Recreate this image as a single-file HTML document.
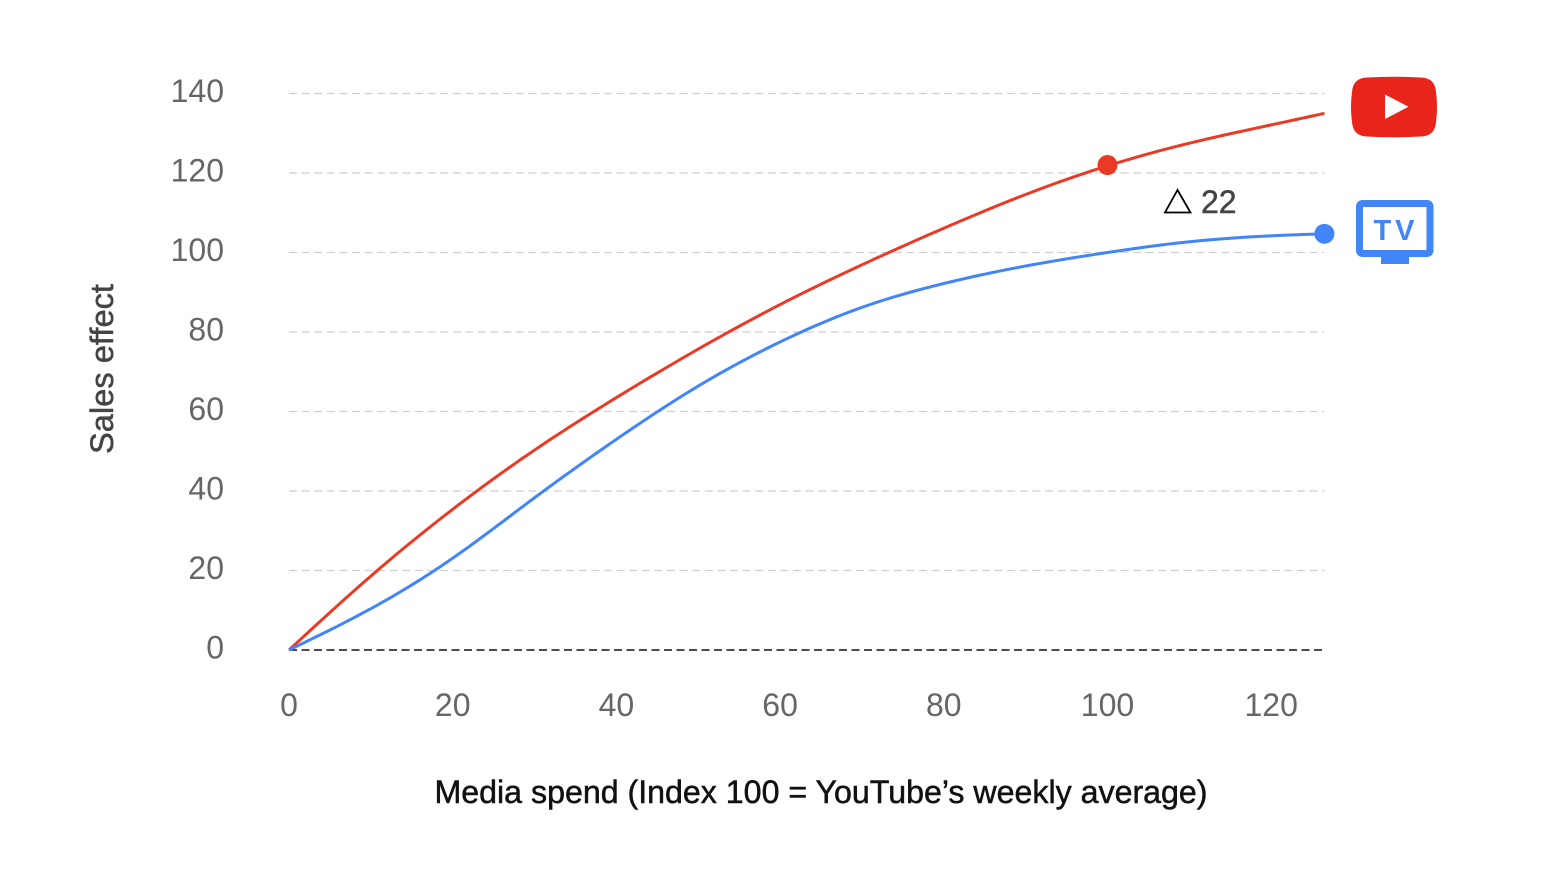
<!DOCTYPE html>
<html lang="en">
<head>
<meta charset="utf-8">
<title>Sales effect vs media spend</title>
<style>
  html,body{margin:0;padding:0;background:#fff;}
  #chart{display:block;width:1560px;height:872px;font-family:"Liberation Sans",sans-serif;}
</style>
</head>
<body>
<svg id="chart" width="1560" height="872" viewBox="0 0 1560 872" xmlns="http://www.w3.org/2000/svg">
  <rect x="0" y="0" width="1560" height="872" fill="#ffffff"/>
  <g id="grid"></g>
  <g id="yticks"></g>
  <g id="xticks"></g>
  <g id="series"></g>
  <text transform="translate(113,369) rotate(-90)" text-anchor="middle" font-size="32" fill="#444444" stroke="#444444" stroke-width="0.5" textLength="170" lengthAdjust="spacingAndGlyphs">Sales effect</text>
  <text x="821" y="803" text-anchor="middle" font-size="32" fill="#111111" stroke="#111111" stroke-width="0.5" textLength="773" lengthAdjust="spacingAndGlyphs">Media spend (Index 100 = YouTube’s weekly average)</text>

  <g>
    <polygon points="1177.5,190 1165,212.5 1190.5,212.5" fill="none" stroke="#000000" stroke-width="1.8"/>
    <text x="1201" y="213" font-size="32" fill="#444444" stroke="#444444" stroke-width="0.5">22</text>
  </g>

  <g>
    <path d="M1367 77.500 Q1394 76 1421 77.500 Q1435 78 1436 92 Q1438 107 1436 122 Q1435 136 1421 136.500 Q1394 138 1367 136.500 Q1353 136 1352 122 Q1350 107 1352 92 Q1353 78 1367 77.500 Z" fill="#E9241A"/>
    <polygon points="1385,94.500 1408.500,106.700 1385,119" fill="#ffffff"/>
  </g>

  <g>
    <rect x="1381" y="255" width="28" height="9" fill="#4285F9"/>
    <rect x="1359.500" y="203.500" width="70.500" height="50" rx="3" ry="3" fill="#ffffff" stroke="#4285F9" stroke-width="7"/>
    <text x="1396" y="240" text-anchor="middle" font-size="29" font-weight="bold" letter-spacing="4" fill="#4285F9">TV</text>
  </g>
</svg>
<script>
var spendValues = [0, 10, 20, 30, 40, 50, 60, 70, 80, 90, 100, 110, 120, 126.5];
var youtubeEffect = [0, 18.6, 35.4, 50.3, 63.5, 75.7, 86.9, 96.9, 106.1, 114.6, 121.8, 127.5, 132.1, 135];
var tvEffect = [0, 10.4, 23.1, 38.3, 53, 66.4, 77.5, 86.2, 92.2, 96.6, 100, 102.7, 104.2, 104.7];
var yTickLabels = [0, 20, 40, 60, 80, 100, 120, 140];
var xTickLabels = [0, 20, 40, 60, 80, 100, 120];
var youtubeMarkerSpend = [100];
var youtubeMarkerEffect = [122];
var tvMarkerSpend = [126.5];
var tvMarkerEffect = [104.7];

var NS = 'http://www.w3.org/2000/svg';
function xScale(v) { return 289 + v * 8.185; }
function yScale(v) { return 650 - v * 3.975; }
function yLabelBaseline(t) { return 658.6 - t * 3.975; }
function make(tag, attrs, parent) {
  var el = document.createElementNS(NS, tag);
  for (var k in attrs) { el.setAttribute(k, attrs[k]); }
  parent.appendChild(el);
  return el;
}
// Natural cubic spline through the data, sampled finely so the curve stays C2-smooth.
function smoothPath(xs, ys) {
  var n = xs.length, m = new Array(n).fill(0), c = new Array(n).fill(0), d = new Array(n).fill(0);
  for (var i = 1; i < n - 1; i++) {
    var h0 = xs[i] - xs[i - 1], h1 = xs[i + 1] - xs[i];
    var a = h0, b = 2 * (h0 + h1), r = 6 * ((ys[i + 1] - ys[i]) / h1 - (ys[i] - ys[i - 1]) / h0);
    var den = b - a * c[i - 1];
    c[i] = h1 / den;
    d[i] = (r - a * d[i - 1]) / den;
  }
  for (var j = n - 2; j > 0; j--) { m[j] = d[j] - c[j] * m[j + 1]; }
  var path = 'M' + xScale(xs[0]).toFixed(2) + ' ' + yScale(ys[0]).toFixed(2);
  for (var s = 0; s < n - 1; s++) {
    var h = xs[s + 1] - xs[s], steps = 12;
    for (var k = 1; k <= steps; k++) {
      var t = xs[s] + h * k / steps;
      var A = (xs[s + 1] - t) / h, B = (t - xs[s]) / h;
      var val = A * ys[s] + B * ys[s + 1] + ((A * A * A - A) * m[s] + (B * B * B - B) * m[s + 1]) * h * h / 6;
      path += ' L' + xScale(t).toFixed(2) + ' ' + yScale(val).toFixed(2);
    }
  }
  return path;
}

var gridGroup = document.getElementById('grid');
var yGroup = document.getElementById('yticks');
var xGroup = document.getElementById('xticks');
var seriesGroup = document.getElementById('series');
var axisEnd = xScale(126.5);

yTickLabels.forEach(function (t) {
  var isZero = t === 0;
  var line = make('line', {
    x1: xScale(0), x2: axisEnd, y1: yScale(t), y2: yScale(t),
    stroke: isZero ? '#111111' : '#cfcfcf',
    'stroke-width': isZero ? 1.5 : 1.2,
    'stroke-dasharray': isZero ? '8 4.5' : '8 4.6'
  }, gridGroup);
  
  

  var label = make('text', {
    x: 224, y: yLabelBaseline(t), 'text-anchor': 'end',
    'font-size': 32, fill: '#666666'
  }, yGroup);
  label.textContent = String(t);
  
  
});

xTickLabels.forEach(function (t) {
  var label = make('text', {
    x: xScale(t), y: 716, 'text-anchor': 'middle',
    'font-size': 32, fill: '#666666'
  }, xGroup);
  label.textContent = String(t);
  
  
});

var youtubeLine = make('path', {
  d: smoothPath(spendValues, youtubeEffect), fill: 'none',
  stroke: '#EA3A26', 'stroke-width': 3, 'stroke-linejoin': 'round'
}, seriesGroup);



var tvLine = make('path', {
  d: smoothPath(spendValues, tvEffect), fill: 'none',
  stroke: '#4285F9', 'stroke-width': 3, 'stroke-linejoin': 'round'
}, seriesGroup);



var youtubeDot = make('circle', {
  cx: xScale(youtubeMarkerSpend[0]), cy: yScale(youtubeMarkerEffect[0]), r: 10, fill: '#EA3A26'
}, seriesGroup);



var tvDot = make('circle', {
  cx: xScale(tvMarkerSpend[0]), cy: yScale(tvMarkerEffect[0]), r: 10, fill: '#4285F9'
}, seriesGroup);


</script>
</body>
</html>
